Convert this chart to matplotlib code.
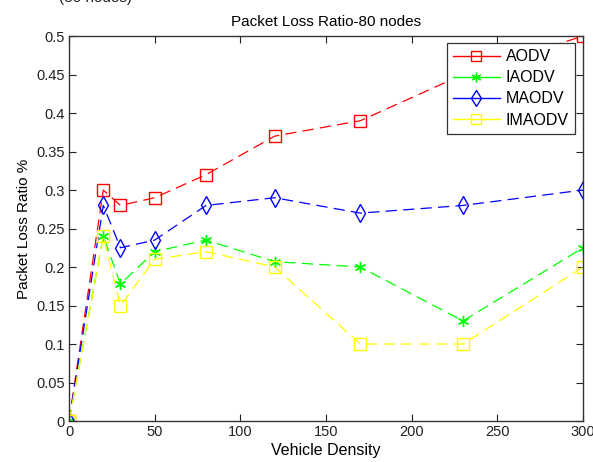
import matplotlib
matplotlib.use("Agg")
import matplotlib.pyplot as plt
from matplotlib.lines import Line2D

plt.rcParams["font.family"] = ["Liberation Sans", "DejaVu Sans"]

# datos
density = [0, 20, 30, 50, 80, 120, 170, 230, 300]
aodv = [0, 0.30, 0.28, 0.29, 0.32, 0.37, 0.39, 0.45, 0.50]
iaodv = [0, 0.24, 0.178, 0.22, 0.235, 0.207, 0.20, 0.13, 0.225]
maodv = [0, 0.28, 0.225, 0.235, 0.28, 0.29, 0.27, 0.28, 0.30]
imaodv = [0, 0.24, 0.15, 0.21, 0.22, 0.20, 0.10, 0.10, 0.20]

fig = plt.figure(figsize=(5.93, 4.62), dpi=100)
ax = fig.add_axes([0.1164, 0.0887, 0.8668, 0.8333])

star = (6, 2, 0)  # asterisco estilo MATLAB
series = [
    ("AODV", aodv, "red", "s", 8),
    ("IAODV", iaodv, "#00ff00", star, 8),
    ("MAODV", maodv, "blue", "d", 9),
    ("IMAODV", imaodv, "yellow", "s", 8),
]
handles = []
for name, vals, col, mk, ms in series:
    ax.plot(density, vals, color=col, ls=(0, (9, 5)), lw=0.9, marker=mk,
            ms=ms, mfc="none", mec=col, mew=1.0)
    handles.append(Line2D([], [], color=col, lw=1.0, marker=mk, ms=ms - 1,
                          mfc="none", mec=col, mew=1.0, label=name))

ax.set_xlim(0, 300)
ax.set_ylim(0, 0.5)
ax.set_xticks(range(0, 301, 50))
ax.set_yticks([i * 0.05 for i in range(11)])
ax.set_yticklabels(["0", "0.05", "0.1", "0.15", "0.2", "0.25", "0.3",
                    "0.35", "0.4", "0.45", "0.5"])
ax.tick_params(direction="in", length=5, labelsize=10.5, top=True, right=True,
               colors="#222222", pad=3)
for sp in ax.spines.values():
    sp.set_color("#333333")
    sp.set_linewidth(1.0)

ax.set_title("Packet Loss Ratio-80 nodes", fontsize=11, pad=7)
ax.set_xlabel("Vehicle Density", fontsize=11.5, labelpad=2.5)
ax.set_ylabel("Packet Loss Ratio %", fontsize=11, labelpad=4)

leg = ax.legend(handles=handles, loc="upper right",
                bbox_to_anchor=(0.985, 0.982), fontsize=11.5,
                fancybox=False, framealpha=1, edgecolor="#333333",
                handlelength=2.9, borderpad=0.4, labelspacing=0.38,
                handletextpad=0.4, borderaxespad=0)
leg.get_frame().set_linewidth(0.9)

# resto de texto recortado en el borde superior
fig.text(0.10, 1.005, "(80 nodes)", fontsize=11, color="#222222", va="center")

fig.savefig("out.png", dpi=100, facecolor="white")
